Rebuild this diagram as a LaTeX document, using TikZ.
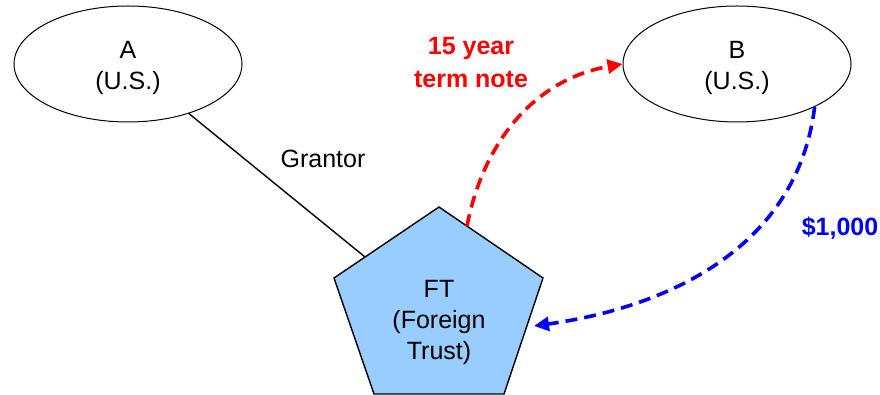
\documentclass[tikz,border=0pt]{standalone}
\usepackage{fontspec}
\setmainfont{Liberation Sans}
\usetikzlibrary{arrows.meta,shapes.geometric}
\definecolor{ftblue}{HTML}{99CCFF}
\begin{document}
\begin{tikzpicture}[x=1pt,y=1pt,
  txt/.style={font=\fontsize{25}{31}\selectfont, align=center, inner sep=0pt},
  lbl/.style={font=\fontsize{25}{33}\selectfont\bfseries, align=center, inner sep=0pt},
  party/.style={ellipse, draw, line width=1pt, minimum width=228pt, minimum height=116pt, inner sep=0pt},
  flow/.style={line width=3.6pt, dash pattern=on 12pt off 7pt, -{Triangle[length=15pt,width=14pt]}}]
\useasboundingbox (0,0) rectangle (880,395);
% parties
\node[party] (A) at (128,331) {};
\node[txt] (At) at (128,327) {A\\(U.S.)};
\node[party] (B) at (737,331) {};
\node[txt] (Bt) at (737,327) {B\\(U.S.)};
% grantor line
\coordinate (g) at (365,138);
\draw[line width=1.4pt] (A) -- (g);
\node[txt] (gl) at (323,236) {Grantor};
% foreign trust pentagon
\coordinate (p1) at (439,188);
\coordinate (p2) at (543,117);
\coordinate (p3) at (504,1);
\coordinate (p4) at (374,1);
\coordinate (p5) at (334,117);
\filldraw[fill=ftblue, draw=black, line width=1.4pt, line join=miter] (p1) -- (p2) -- (p3) -- (p4) -- (p5) -- cycle;
\node[txt] (FT) at (439,73) {FT\\(Foreign\\Trust)};
% flows
\coordinate (rs) at (467,169);
\draw[flow, red] (rs) to[out=79, in=190] (B.west);
\node[lbl, red] (rl) at (471,332) {15 year\\term note};
\coordinate (be) at (534,69);
\draw[flow, blue] (B.-29) to[out=-97, in=8] (be);
\node[lbl, blue] (bl) at (840,167) {\$1,000};
\end{tikzpicture}
\end{document}
